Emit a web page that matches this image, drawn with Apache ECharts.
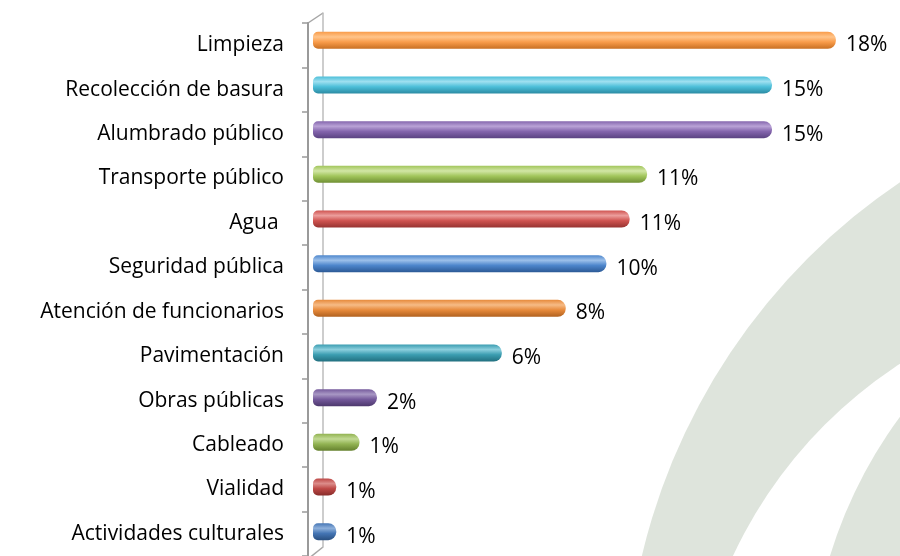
<!DOCTYPE html>
<html>
<head>
<meta charset="utf-8">
<script src="https://cdn.jsdelivr.net/npm/echarts@6/dist/echarts.min.js"></script>
<style>
  html, body { margin: 0; padding: 0; background: #fff; }
  #chart { width: 900px; height: 556px; }
</style>
</head>
<body>
<div id="chart"></div>
<script>
// categorias (de arriba hacia abajo)
const categorias = [
  'Limpieza', 'Recolección de basura', 'Alumbrado público', 'Transporte público',
  'Agua ', 'Seguridad pública', 'Atención de funcionarios', 'Pavimentación',
  'Obras públicas', 'Cableado', 'Vialidad', 'Actividades culturales'
]
// largo de las barras (%)
const valores = [18.0, 15.8, 15.8, 11.5, 10.9, 10.1, 8.7, 6.5, 2.2, 1.6, 0.8, 0.8]
// etiquetas tal como aparecen
const etiquetas = ['18%', '15%', '15%', '11%', '11%', '10%', '8%', '6%', '2%', '1%', '1%', '1%']
// colores [claro, medio, oscuro] por barra
const colores = [
  ['#ffc48a', '#f99c4a', '#c86f22'],
  ['#9fe0f0', '#4dbfd9', '#2b8ba3'],
  ['#b9a2d6', '#8465ad', '#5b4382'],
  ['#d2e6a6', '#a2c65c', '#6f8f33'],
  ['#ec9e9c', '#cf5350', '#973331'],
  ['#9cc0ea', '#4d86cc', '#2c5a96'],
  ['#f6bb86', '#e78a3b', '#b0611f'],
  ['#8ccfdd', '#3b9db1', '#22707f'],
  ['#a897c4', '#74599b', '#4d386d'],
  ['#c2da94', '#92b352', '#64802d'],
  ['#dc8c8a', '#bd4846', '#872c2a'],
  ['#8eb0db', '#4475b4', '#294f80']
]

const chart = echarts.init(document.getElementById('chart'))
const fuente = 'Open Sans'

const barData = valores.map((v, i) => ({
  value: v,
  itemStyle: {
    color: new echarts.graphic.LinearGradient(0, 0, 0, 1, [
      { offset: 0, color: colores[i][1] },
      { offset: 0.3, color: colores[i][0] },
      { offset: 0.6, color: colores[i][1] },
      { offset: 1, color: colores[i][2] }
    ])
  },
  label: { formatter: etiquetas[i] }
}))

chart.setOption({
  animation: false,
  backgroundColor: '#fff',
  graphic: {
    z: -10,
    elements: [
      { type: 'circle', silent: true, shape: { cx: 1250, cy: 700, r: 625 }, style: { fill: '#dee4dc' } },
      { type: 'circle', silent: true, shape: { cx: 1150, cy: 750, r: 460 }, style: { fill: '#ffffff' } },
      { type: 'circle', silent: true, shape: { cx: 1270, cy: 690, r: 460 }, style: { fill: '#dee4dc' } },
      { type: 'line', silent: true, shape: { x1: 308, y1: 23, x2: 323, y2: 13 }, style: { stroke: '#a6a6a6', lineWidth: 1.5 } },
      { type: 'line', silent: true, shape: { x1: 308, y1: 559, x2: 323, y2: 547 }, style: { stroke: '#a6a6a6', lineWidth: 1.5 } }
    ]
  },
  grid: [
    { left: 308, top: 23, height: 536, width: 500 },
    { left: 313, top: 18, height: 536, width: 581 },
    { left: 323, top: 13, height: 534, width: 500 }
  ],
  xAxis: [
    { gridIndex: 0, type: 'value', show: false },
    { gridIndex: 1, type: 'value', min: 0, max: 20, show: false },
    { gridIndex: 2, type: 'value', show: false }
  ],
  yAxis: [
    {
      gridIndex: 0, type: 'category', inverse: true, data: categorias,
      axisLine: { lineStyle: { color: '#9a9a9a', width: 2 } },
      axisTick: { show: true, length: 6, lineStyle: { color: '#9a9a9a', width: 1.5 } },
      axisLabel: { color: '#000', fontSize: 21, fontFamily: fuente, margin: 24 },
      splitLine: { show: false }
    },
    { gridIndex: 1, type: 'category', inverse: true, data: categorias, show: false },
    {
      gridIndex: 2, type: 'category', inverse: true, data: categorias,
      axisLine: { lineStyle: { color: '#bdbdbd', width: 1.5 } },
      axisTick: { show: false }, axisLabel: { show: false }, splitLine: { show: false }
    }
  ],
  series: [
    {
      type: 'bar', xAxisIndex: 1, yAxisIndex: 1,
      data: barData,
      barWidth: 17,
      itemStyle: { borderRadius: [5, 8, 8, 5] },
      label: {
        show: true, position: 'right', distance: 10, offset: [0, 5],
        color: '#000', fontSize: 21, fontFamily: fuente
      }
    }
  ]
})
</script>
</body>
</html>
